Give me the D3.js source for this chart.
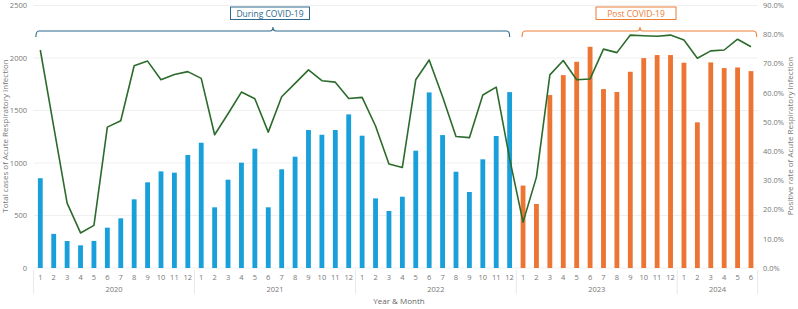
<!DOCTYPE html>
<html>
<head>
<meta charset="utf-8">
<script src="https://cdn.jsdelivr.net/npm/d3@7"></script>
<style>
  body { margin: 0; background: #fff; }
  svg text { font-family: "Open Sans", "Noto Sans", sans-serif; }
</style>
</head>
<body>
<svg width="798" height="309"></svg>
<script>
let svg = d3.select("svg")
let width = 798, height = 309

// data
let years = ["2020", "2021", "2022", "2023", "2024"]
let monthsPerYear = [12, 12, 12, 12, 6]
let totalCases = [
  855, 325, 257, 216, 258, 384, 473, 654, 816, 920, 908, 1076,
  1193, 578, 841, 1003, 1136, 578, 940, 1060, 1314, 1269, 1314, 1463,
  1260, 663, 543, 679, 1117, 1672, 1266, 917, 724, 1035, 1257, 1675,
  785, 610, 1647, 1837, 1964, 2107, 1704, 1676, 1869, 1999, 2028, 2028,
  1955, 1387, 1958, 1904, 1910, 1875
]
let positiveRate = [
  74.6, 48.4, 22.2, 12.0, 14.6, 48.2, 50.4, 69.2, 70.8, 64.4, 66.2, 67.2,
  64.9, 45.6, 52.8, 60.2, 57.9, 46.5, 58.6, 63.2, 67.8, 64.1, 63.6, 58.0,
  58.4, 48.6, 35.6, 34.4, 64.4, 71.2, 58.6, 45.0, 44.6, 59.2, 61.9, 37.4,
  15.7, 31.1, 66.1, 71.0, 64.4, 64.7, 74.9, 73.7, 79.7, 79.5, 79.3, 79.7,
  78.0, 71.8, 74.3, 74.6, 78.3, 75.7
]
let leftTicks = [0, 500, 1000, 1500, 2000, 2500]
let rightTicks = [0, 10, 20, 30, 40, 50, 60, 70, 80, 90]
let periods = [
  {label: "During COVID-19", from: 0, to: 35},
  {label: "Post COVID-19", from: 36, to: 53}
]

// build month keys
let keys = []
years.forEach((y, i) => {
  for (let m = 1; m <= monthsPerYear[i]; m++) keys.push({year: y, month: m, key: y + "-" + m})
})
keys.forEach((k, i) => { k.cases = totalCases[i]; k.rate = positiveRate[i]; k.post = +k.year >= 2023 })

let x = d3.scaleBand()
  .domain(keys.map(d => d.key))
  .range([33.6, 757.7])
  .paddingInner(0.64)
  .paddingOuter(0.32)

let yL = d3.scaleLinear().domain([0, 2500]).range([268, 5.5])
let yR = d3.scaleLinear().domain([0, 90]).range([268, 5])

let cx = d => x(d.key) + x.bandwidth() / 2

// grid
svg.append("g").selectAll("line")
  .data(leftTicks)
  .join("line")
  .attr("x1", 33.6).attr("x2", 757.7)
  .attr("y1", d => yL(d)).attr("y2", d => yL(d))
  .attr("stroke", "#efefef")

// left axis
let yAxisL = d3.axisLeft(yL).tickValues(leftTicks).tickSize(0).tickPadding(6).tickFormat(d3.format("d"))
let gl = svg.append("g").attr("transform", "translate(33,0)").call(yAxisL)
gl.select(".domain").remove()
gl.selectAll("text").attr("fill", "#777").style("font-size", "7.5px")

// right axis
let yAxisR = d3.axisRight(yR).tickValues(rightTicks).tickSize(0).tickPadding(5)
  .tickFormat(d => d.toFixed(1) + "%")
let gr = svg.append("g").attr("transform", "translate(758,0)").call(yAxisR)
gr.select(".domain").remove()
gr.selectAll("text").attr("fill", "#777").style("font-size", "7.5px")

// bars
svg.append("g").selectAll("rect")
  .data(keys)
  .join("rect")
  .attr("x", d => x(d.key))
  .attr("width", x.bandwidth())
  .attr("y", d => yL(d.cases))
  .attr("height", d => yL(0) - yL(d.cases))
  .attr("fill", d => d.post ? "#ec7533" : "#199fd9")

// line
let line = d3.line().x(cx).y(d => yR(d.rate))
svg.append("path")
  .datum(keys)
  .attr("d", line)
  .attr("fill", "none")
  .attr("stroke", "#2c6b2c")
  .attr("stroke-width", 1.6)
  .attr("stroke-linejoin", "round")

// month labels
svg.append("g").selectAll("text")
  .data(keys)
  .join("text")
  .attr("x", cx)
  .attr("y", 280)
  .attr("text-anchor", "middle")
  .attr("fill", "#777")
  .style("font-size", "7.5px")
  .text(d => d.month)

// year groups
let step = x.step()
let groupStart = 0
let groups = years.map((y, i) => {
  let g = {year: y, start: 33.6 + groupStart * step, end: 33.6 + (groupStart + monthsPerYear[i]) * step}
  groupStart += monthsPerYear[i]
  return g
})
let sepX = [groups[0].start].concat(groups.map(g => g.end))
svg.append("g").selectAll("line")
  .data(sepX)
  .join("line")
  .attr("x1", d => d).attr("x2", d => d)
  .attr("y1", 270).attr("y2", 294)
  .attr("stroke", "#e8e8e8")
svg.append("g").selectAll("text")
  .data(groups)
  .join("text")
  .attr("x", d => (d.start + d.end) / 2)
  .attr("y", 292)
  .attr("text-anchor", "middle")
  .attr("fill", "#777")
  .style("font-size", "7.5px")
  .text(d => d.year)

// axis titles
svg.append("text")
  .attr("x", 399).attr("y", 304)
  .attr("text-anchor", "middle")
  .attr("fill", "#666")
  .style("font-size", "8px")
  .text("Year & Month")

svg.append("text")
  .attr("transform", "translate(8,136) rotate(-90)")
  .attr("text-anchor", "middle")
  .attr("fill", "#777")
  .style("font-size", "8px")
  .text("Total cases of Acute Respiratory Infection")

svg.append("text")
  .attr("transform", "translate(793,136) rotate(-90)")
  .attr("text-anchor", "middle")
  .attr("fill", "#777")
  .style("font-size", "8px")
  .text("Positive rate of Acute Respiratory Infection")

// period brackets
let bracketCol = ["#2b6a8c", "#ee7d36"]
let bx = [
  [x(keys[periods[0].from].key) - 2, cx(keys[periods[0].to]), 273],
  [cx(keys[periods[1].from]) - 1, 756.7, 640]
]
periods.forEach((p, i) => {
  let [x0, x1, m] = bx[i]
  let path = `M${x0},37 Q${x0},31 ${x0 + 3},31 L${m - 3},31 Q${m},31 ${m},27 Q${m},31 ${m + 3},31 L${x1 - 3},31 Q${x1},31 ${x1},37`
  svg.append("path")
    .attr("d", path)
    .attr("fill", "none")
    .attr("stroke", bracketCol[i])
    .attr("stroke-width", 1.1)
  let bw = i == 0 ? 79 : 80
  svg.append("rect")
    .attr("x", m - bw / 2 - (i == 0 ? 3 : 4)).attr("y", 7)
    .attr("width", bw).attr("height", 12.5)
    .attr("fill", "#fff")
    .attr("stroke", bracketCol[i])
    .attr("stroke-width", 1)
  svg.append("text")
    .attr("x", m - (i == 0 ? 3 : 4)).attr("y", 16.5)
    .attr("text-anchor", "middle")
    .attr("fill", bracketCol[i])
    .style("font-size", "8.5px")
    .text(p.label)
})
</script>
</body>
</html>
